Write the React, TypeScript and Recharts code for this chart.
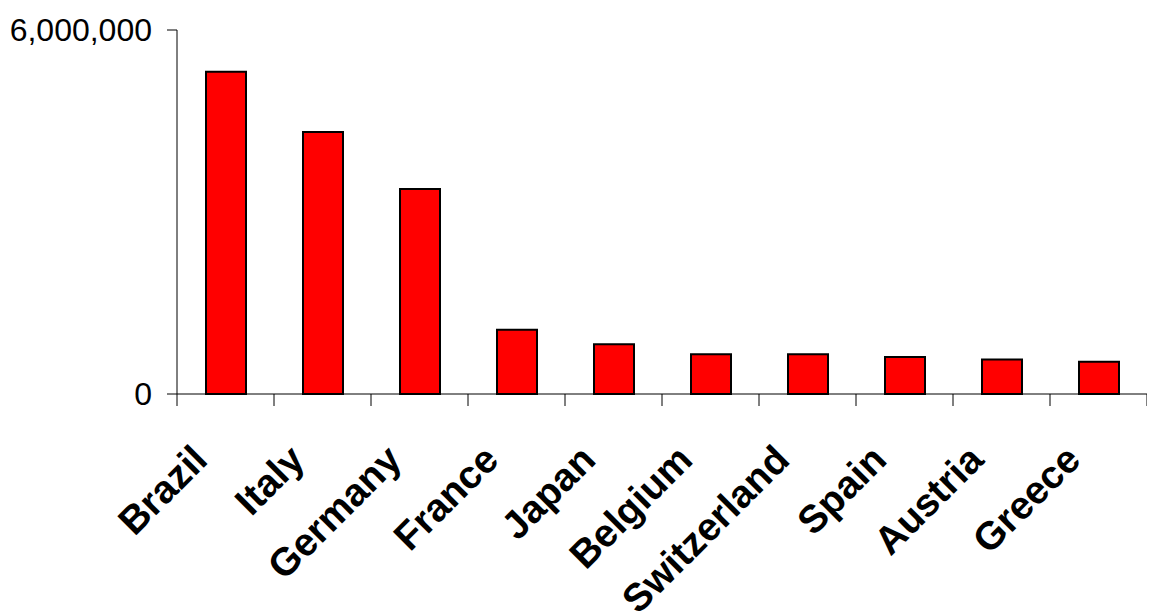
import React from "react";
import { BarChart, Bar, XAxis, YAxis } from "recharts";

const countries = ["Brazil", "Italy", "Germany", "France", "Japan", "Belgium", "Switzerland", "Spain", "Austria", "Greece"];
const values = [5310000, 4320000, 3380000, 1060000, 820000, 655000, 655000, 610000, 570000, 530000];
const yTicks = [0, 6000000];

const data = countries.map((c, i) => ({ name: c, value: values[i] }));

const FONT = "'Liberation Sans', Arial, Helvetica, sans-serif";
const CHART_W = 1147;
const CHART_H = 604;
const MARGIN = { top: 22, right: 8, bottom: 0, left: 0 };
const Y_W = 169;
const PLOT_W = CHART_W - MARGIN.left - MARGIN.right - Y_W;

const CountryTick = (props: any) => {
  const { x, y, payload, index, visibleTicksCount } = props;
  const n = visibleTicksCount || countries.length;
  const band = PLOT_W / n;
  const ax = x - 16;
  const ay = y + 68;
  const left = x - band / 2;
  const right = x + band / 2;
  return (
    <g>
      <line x1={left} y1={y} x2={left} y2={y + 12} stroke="#000" strokeWidth={1} />
      {index === n - 1 ? (
        <line x1={right} y1={y} x2={right} y2={y + 12} stroke="#000" strokeWidth={1} />
      ) : null}
      <text
        x={ax}
        y={ay}
        textAnchor="end"
        transform={`rotate(-45 ${ax} ${ay})`}
        fontSize={39}
        fontWeight="bold"
        fontFamily={FONT}
        fill="#000"
      >
        {payload.value}
      </text>
    </g>
  );
};

export default function App() {
  return (
    <BarChart width={CHART_W} height={CHART_H} data={data} margin={MARGIN} barSize={40}>
      <XAxis
        dataKey="name"
        interval={0}
        height={218}
        axisLine={{ stroke: "#000", strokeWidth: 1 }}
        tickLine={false}
        tickSize={0}
        tickMargin={0}
        tick={<CountryTick />}
      />
      <YAxis
        domain={[0, 6000000]}
        ticks={yTicks}
        width={Y_W}
        tickSize={10}
        tickMargin={15}
        tickFormatter={(v: number) => v.toLocaleString("en-US")}
        tick={{ fontSize: 32, fontFamily: FONT, fill: "#000" }}
        axisLine={{ stroke: "#000", strokeWidth: 1 }}
        tickLine={{ stroke: "#000", strokeWidth: 1 }}
      />
      <Bar dataKey="value" fill="#FF0000" stroke="#000" strokeWidth={2} isAnimationActive={false} />
    </BarChart>
  );
}
